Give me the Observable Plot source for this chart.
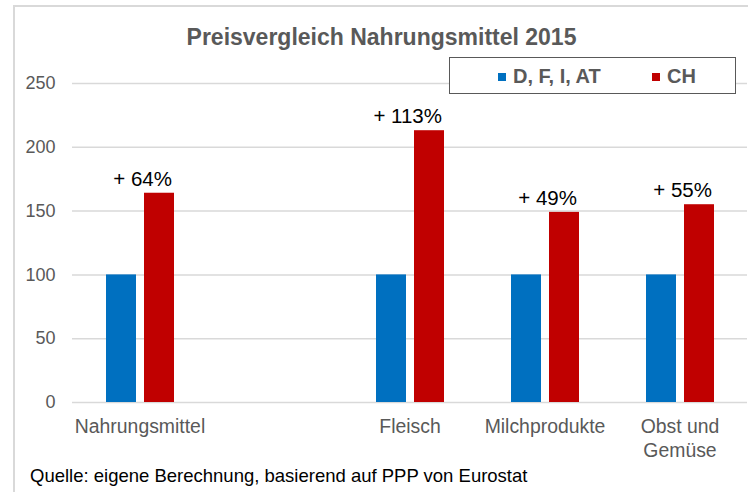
<!DOCTYPE html>
<html>
<head>
<meta charset="utf-8">
<script src="https://cdn.jsdelivr.net/npm/d3@7"></script>
<script src="https://cdn.jsdelivr.net/npm/@observablehq/plot@0.6"></script>
<style>
  html, body { margin: 0; padding: 0; background: #fff; overflow: hidden; }
  #wrap { position: relative; width: 748px; height: 492px; font-family: "Liberation Sans", Arial, sans-serif; }
  #frame { position: absolute; left: 13px; top: 5px; width: 800px; height: 600px; border-left: 2px solid #d9d9d9; border-top: 2px solid #d9d9d9; }
  #title { position: absolute; left: 14px; width: 735px; top: 23px; line-height: 28px; text-align: center; font-size: 23px; font-weight: bold; color: #595959; }
  #chart { position: absolute; left: 0; top: 60px; }
  #legend { position: absolute; left: 449px; top: 57px; width: 285px; height: 35px; border: 1px solid #595959; background: #fff; font-size: 20px; font-weight: bold; color: #595959; }
  .item { position: absolute; top: 6px; line-height: 24px; white-space: nowrap; }
  .sw { display: inline-block; width: 8px; height: 8px; margin-right: 7px; vertical-align: 2px; }
  #caption { position: absolute; left: 30px; top: 465px; font-size: 18.5px; line-height: 22px; color: #000; }
</style>
</head>
<body>
<div id="wrap">
  <div id="frame"></div>
  <div id="chart"></div>
  <div id="title"></div>
  <div id="legend"></div>
  <div id="caption"></div>
</div>
<script>
const titleText = "Preisvergleich Nahrungsmittel 2015";
const captionText = "Quelle: eigene Berechnung, basierend auf PPP von Eurostat";
const categories = ["Nahrungsmittel", " ", "Fleisch", "Milchprodukte", "Obst und\nGemüse"];
const barCategories = ["Nahrungsmittel", "Fleisch", "Milchprodukte", "Obst und\nGemüse"];
const seriesNames = ["D, F, I, AT", "CH"];
const valuesEU = [100, 100, 100, 100];
const valuesCH = [164, 213, 149, 155];
const diffLabels = ["+ 64%", "+ 113%", "+ 49%", "+ 55%"];
const yTicks = [0, 50, 100, 150, 200, 250];
const colors = ["#0070C0", "#C00000"];

const rows = barCategories.map((c, i) => ({cat: c, eu: valuesEU[i], ch: valuesCH[i], label: diffLabels[i]}));

document.getElementById("title").textContent = titleText;
document.getElementById("caption").textContent = captionText;

const legend = document.getElementById("legend");
const legendX = [48, 202];
seriesNames.forEach((name, i) => {
  const it = document.createElement("div");
  it.className = "item";
  it.style.left = legendX[i] + "px";
  const sw = document.createElement("span");
  sw.className = "sw";
  sw.style.background = colors[i];
  it.appendChild(sw);
  it.appendChild(document.createTextNode(name));
  legend.appendChild(it);
});

const chart = Plot.plot({
  width: 748,
  height: 405,
  marginTop: 23,
  marginBottom: 63,
  marginLeft: 72,
  marginRight: 1,
  style: {fontFamily: "Liberation Sans, Arial, sans-serif", background: "transparent"},
  x: {domain: categories, padding: 0, axis: null},
  y: {domain: [0, 250], axis: null},
  marks: [
    Plot.gridY(yTicks, {stroke: "#d9d9d9", strokeOpacity: 1, strokeWidth: 1.5}),
    Plot.axisY(yTicks, {tickSize: 0, tickPadding: 17, fontSize: 18, fill: "#595959", label: null}),
    Plot.barY(rows, {x: "cat", y: "eu", fill: colors[0], insetLeft: 34, insetRight: 71}),
    Plot.barY(rows, {x: "cat", y: "ch", fill: colors[1], insetLeft: 72, insetRight: 33}),
    Plot.text(rows, {x: "cat", y: "ch", text: "label", textAnchor: "end", dx: 32, dy: -14, fontSize: 20.5, fill: "#000"}),
    Plot.axisX(categories, {tickSize: 0, tickPadding: 13, fontSize: 19.4, fill: "#595959", lineHeight: 1.24, label: null})
  ]
});
document.getElementById("chart").appendChild(chart);
</script>
</body>
</html>
